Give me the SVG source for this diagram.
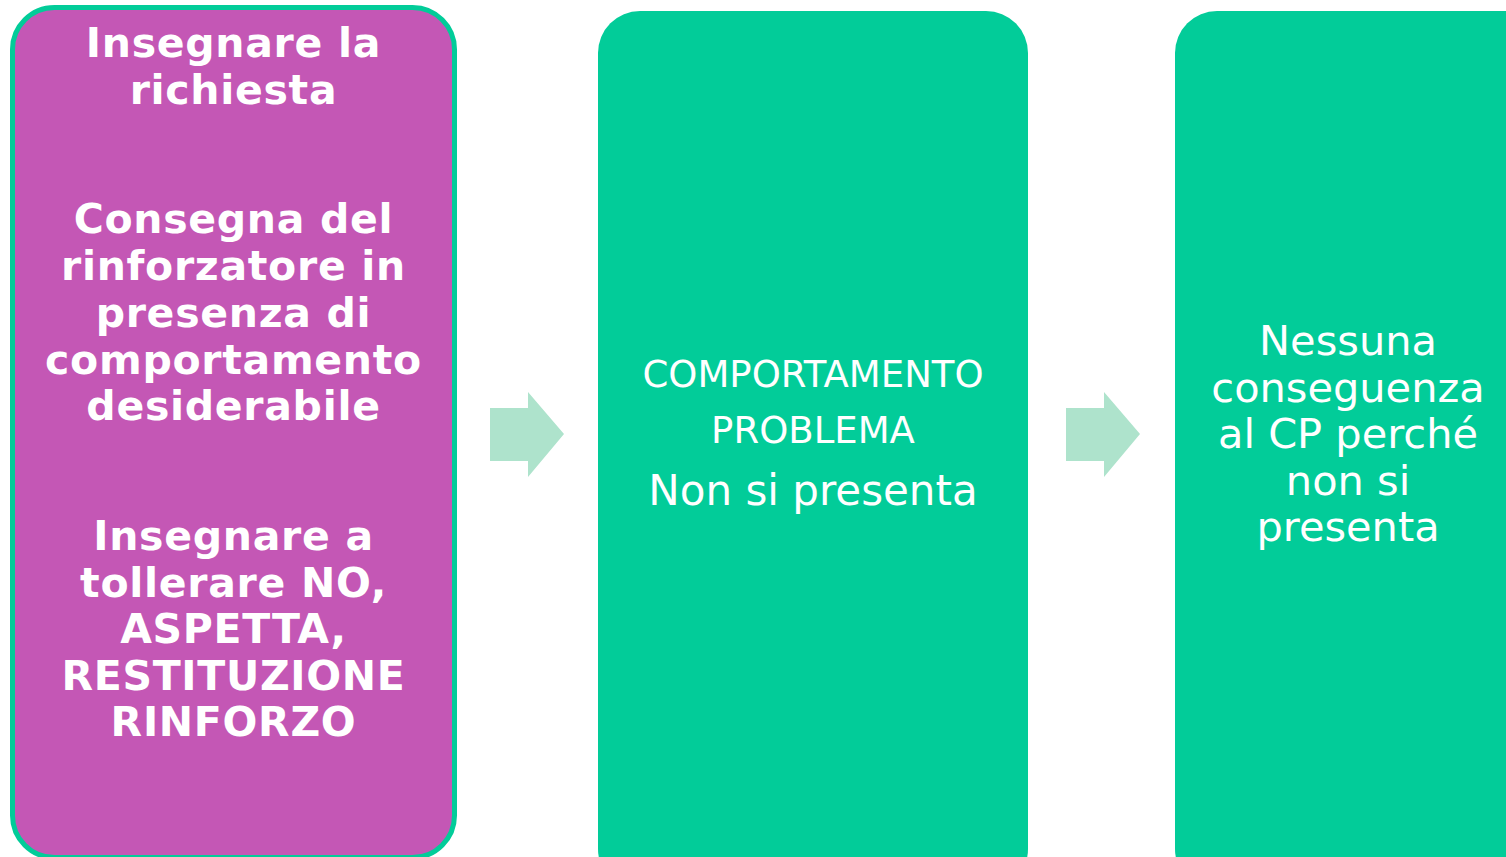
<svg xmlns="http://www.w3.org/2000/svg" width="1506" height="857" viewBox="0 0 1506 857">
<style>
.b{font-family:"DejaVu Sans",Verdana,sans-serif;fill:#fff;text-anchor:middle}
.bold{font-weight:bold;font-size:41px;letter-spacing:0.7px}
.reg{font-size:37px}
.big{font-size:42px}
.big2{font-size:41.5px}
.arrow{fill:#AEE3CC}
</style>
<rect width="1506" height="857" fill="#fff"/>
<g id="node1">
<rect x="12.5" y="7.5" width="442" height="850" rx="42" fill="#C457B5" stroke="#02CC99" stroke-width="5"/>
<text class="b bold" x="233.5"><tspan x="233.5" y="57">Insegnare la</tspan><tspan x="233.5" y="104">richiesta</tspan></text>
<text class="b bold" x="233.5"><tspan x="233.5" y="233">Consegna del</tspan><tspan x="233.5" y="280">rinforzatore in</tspan><tspan x="233.5" y="327">presenza di</tspan><tspan x="233.5" y="374">comportamento</tspan><tspan x="233.5" y="420">desiderabile</tspan></text>
<text class="b bold" x="233.5"><tspan x="233.5" y="550">Insegnare a</tspan><tspan x="233.5" y="597">tollerare NO,</tspan><tspan x="233.5" y="643">ASPETTA,</tspan><tspan x="233.5" y="690">RESTITUZIONE</tspan><tspan x="233.5" y="736">RINFORZO</tspan></text>
</g>
<g id="node2">
<rect x="598" y="11" width="430" height="880" rx="42" fill="#02CC99"/>
<text class="b reg" x="813" y="387">COMPORTAMENTO</text>
<text class="b reg" x="813" y="443">PROBLEMA</text>
<text class="b big" x="813" y="505">Non si presenta</text>
</g>
<g id="node3">
<rect x="1175" y="11" width="400" height="880" rx="42" fill="#02CC99"/>
<text class="b big2" x="1348"><tspan x="1348" y="355">Nessuna</tspan><tspan x="1348" y="402">conseguenza</tspan><tspan x="1348" y="448">al CP perché</tspan><tspan x="1348" y="495">non si</tspan><tspan x="1348" y="541">presenta</tspan></text>
</g>
<g id="connectors">
<polygon class="arrow" points="490,408 528,408 528,392 564,434 528,477 528,461 490,461"/>
<polygon class="arrow" points="1066,408 1104,408 1104,392 1140,434 1104,477 1104,461 1066,461"/>
</g>
</svg>
